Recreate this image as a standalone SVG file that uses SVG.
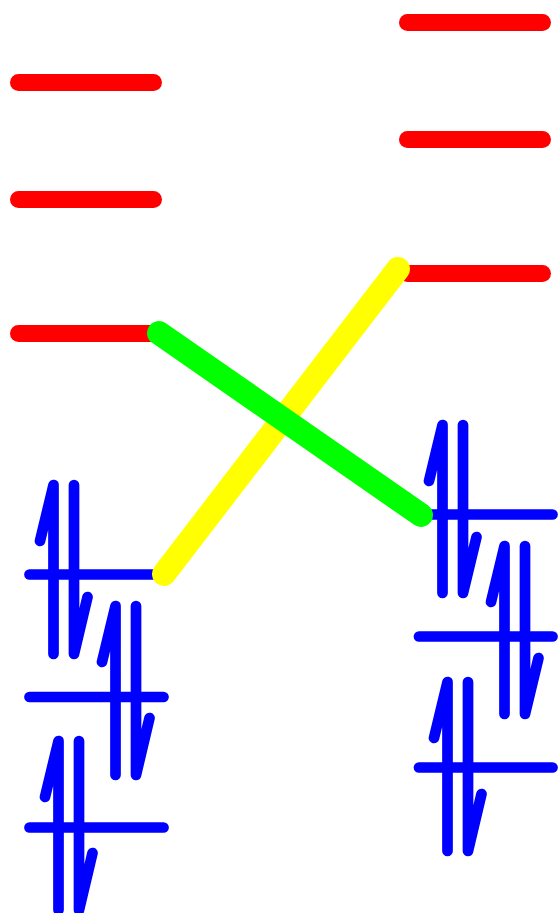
<svg xmlns="http://www.w3.org/2000/svg" width="558" height="913" viewBox="0 0 558 913">
<style>
path,line{fill:none;stroke-linecap:round;stroke-linejoin:round}
.r{stroke:#f00;stroke-width:17}
.b{stroke:#00f;stroke-width:10.7}
.y{stroke:#ff0;stroke-width:24}
.g{stroke:#0f0;stroke-width:24}
</style>
<rect width="558" height="913" fill="#fff"/>
<g id="left-red-1"><line class="r" x1="18.500" y1="82.500" x2="153.500" y2="82.500"/></g>
<g id="left-red-2"><line class="r" x1="18.500" y1="199.500" x2="153.500" y2="199.500"/></g>
<g id="left-red-3"><line class="r" x1="18.500" y1="333.500" x2="153.500" y2="333.500"/></g>
<g id="right-red-1"><line class="r" x1="407.500" y1="22.500" x2="542.500" y2="22.500"/></g>
<g id="right-red-2"><line class="r" x1="407.500" y1="139.500" x2="542.500" y2="139.500"/></g>
<g id="right-red-3"><line class="r" x1="407.500" y1="273.500" x2="542.500" y2="273.500"/></g>
<g id="left-blue-1"><line class="b" x1="29.500" y1="574.500" x2="163.500" y2="574.500"/>
<path class="b" d="M40 541L53.500 485V654"/><path class="b" d="M74 485V654L87.500 597"/></g>
<g id="left-blue-2"><line class="b" x1="29.500" y1="697" x2="163.500" y2="697"/>
<path class="b" d="M102 662L115.500 606V775"/><path class="b" d="M136 606V775L149.500 718"/></g>
<g id="left-blue-3"><line class="b" x1="29.500" y1="827.500" x2="163.500" y2="827.500"/>
<path class="b" d="M45 797L58.500 741V910"/><path class="b" d="M79 741V910L92.500 853"/></g>
<g id="right-blue-1"><line class="b" x1="419" y1="514.500" x2="552.500" y2="514.500"/>
<path class="b" d="M429 481L442.500 425V593"/><path class="b" d="M463 425V593L476.500 537"/></g>
<g id="right-blue-2"><line class="b" x1="419" y1="636.500" x2="552.500" y2="636.500"/>
<path class="b" d="M491 602L504.500 546V714"/><path class="b" d="M525 546V714L538.500 658"/></g>
<g id="right-blue-3"><line class="b" x1="419" y1="767.500" x2="552.500" y2="767.500"/>
<path class="b" d="M434 738L447.500 682V851"/><path class="b" d="M468 682V851L481.500 794"/></g>
<g id="connectors">
<line class="y" x1="164" y1="574" x2="398" y2="269"/>
<line class="g" x1="159" y1="333" x2="421" y2="515"/>
</g>
</svg>
